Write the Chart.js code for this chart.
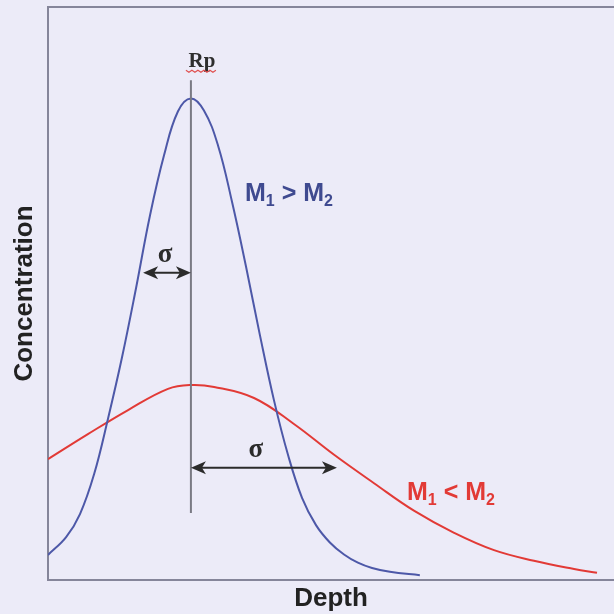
<!DOCTYPE html>
<html>
<head>
<meta charset="utf-8">
<script src="https://cdn.jsdelivr.net/npm/chart.js@4"></script>
<style>
  body { margin: 0; background: #ecebf8; }
  canvas { display: block; }
</style>
</head>
<body>
<canvas id="chart" width="614" height="614"></canvas>
<script>
// depth / concentration
const narrowDepth = [0, 0.64, 1.13, 1.63, 2.12, 2.61, 3.11, 3.60, 4.10, 4.59, 5.05, 5.51, 6.01, 6.50, 7.00, 7.49, 7.99, 8.48, 8.98, 9.47, 9.96, 10.46, 10.95, 11.45, 12.08, 13.14];
const narrowConc = [0.052, 0.089, 0.137, 0.220, 0.335, 0.461, 0.606, 0.756, 0.882, 0.973, 1.0, 0.975, 0.902, 0.786, 0.650, 0.508, 0.372, 0.260, 0.170, 0.114, 0.078, 0.053, 0.036, 0.025, 0.017, 0.010];
const wideDepth = [0, 1.41, 2.83, 4.24, 5.05, 5.87, 7.28, 8.69, 10.11, 11.52, 12.93, 14.35, 15.76, 17.17, 18.59, 19.4];
const wideConc = [0.251, 0.303, 0.353, 0.397, 0.405, 0.401, 0.378, 0.324, 0.260, 0.201, 0.144, 0.098, 0.062, 0.040, 0.023, 0.015];

const rpDepth = 5.05;
const rpLine = [0.139, 1.038];
const narrowSigma = { from: 3.36, to: 5.05, conc: 0.638 };
const wideSigma = { from: 5.05, to: 10.21, conc: 0.233 };

const blue = "#4d58a8";
const red = "#e23a36";
const ink = "#2b2b2b";
const frame = "#85859a";

const toPoints = (xs, ys) => xs.map((x, i) => ({ x: x, y: ys[i] }));

const arrowHead = (ctx, x, y, dir) => {
  ctx.beginPath();
  ctx.moveTo(x, y);
  ctx.lineTo(x - dir * 15, y - 6.5);
  ctx.lineTo(x - dir * 11, y);
  ctx.lineTo(x - dir * 15, y + 6.5);
  ctx.closePath();
  ctx.fill();
};

const subText = (ctx, x, y, parts, color) => {
  ctx.fillStyle = color;
  ctx.textBaseline = "alphabetic";
  ctx.textAlign = "left";
  parts.forEach((p) => {
    ctx.font = p.sub ? "bold 16px 'Liberation Sans', Arial" : "bold 25px 'Liberation Sans', Arial";
    ctx.fillText(p.t, x, y + (p.sub ? 5 : 0));
    x += ctx.measureText(p.t).width;
  });
};

const decorations = {
  id: "decorations",
  beforeDraw: (chart) => {
    const ctx = chart.ctx;
    ctx.save();
    ctx.fillStyle = "#ecebf8";
    ctx.fillRect(0, 0, chart.width, chart.height);
    ctx.restore();
  },
  afterDatasetsDraw: (chart) => {
    const ctx = chart.ctx;
    const xs = chart.scales.x;
    const ys = chart.scales.y;
    const area = chart.chartArea;
    ctx.save();

    // top frame line
    ctx.strokeStyle = frame;
    ctx.lineWidth = 2;
    ctx.beginPath();
    ctx.moveTo(area.left - 1, area.top);
    ctx.lineTo(area.right, area.top);
    ctx.stroke();

    // Rp line
    const rx = xs.getPixelForValue(rpDepth);
    ctx.strokeStyle = "#7a7a84";
    ctx.lineWidth = 2;
    ctx.beginPath();
    ctx.moveTo(rx, ys.getPixelForValue(rpLine[1]));
    ctx.lineTo(rx, ys.getPixelForValue(rpLine[0]));
    ctx.stroke();

    // Rp label with wavy underline
    ctx.fillStyle = "#2e2e2e";
    ctx.font = "bold 21px 'Liberation Serif', 'Times New Roman'";
    ctx.textAlign = "center";
    ctx.textBaseline = "alphabetic";
    const ry = ys.getPixelForValue(rpLine[1]) - 13;
    ctx.fillText("Rp", rx + 11, ry);
    ctx.strokeStyle = "#e05050";
    ctx.lineWidth = 1.2;
    ctx.beginPath();
    for (let i = 0; i <= 10; i++) {
      const px = rx - 5 + i * 3;
      const py = ry + 3 + (i % 2 ? 2 : 0);
      if (i === 0) ctx.moveTo(px, py); else ctx.lineTo(px, py);
    }
    ctx.stroke();

    // sigma arrows
    ctx.strokeStyle = ink;
    ctx.fillStyle = ink;
    ctx.lineWidth = 2;
    [narrowSigma, wideSigma].forEach((s) => {
      const x1 = xs.getPixelForValue(s.from);
      const x2 = xs.getPixelForValue(s.to);
      const y = ys.getPixelForValue(s.conc);
      ctx.beginPath();
      ctx.moveTo(x1 + 4, y);
      ctx.lineTo(x2 - 4, y);
      ctx.stroke();
      arrowHead(ctx, x1, y, -1);
      arrowHead(ctx, x2, y, 1);
      ctx.font = "bold 27px 'Liberation Serif', 'Times New Roman'";
      ctx.textAlign = "center";
      ctx.textBaseline = "alphabetic";
      const mid = s === narrowSigma ? (x1 + x2) / 2 - 2 : x1 + 65;
      ctx.fillText("σ", mid, y - 11);
    });

    // mass labels
    subText(ctx, 245, 201, [{ t: "M" }, { t: "1", sub: true }, { t: " > " }, { t: "M" }, { t: "2", sub: true }], "#3f4a90");
    subText(ctx, 407, 500, [{ t: "M" }, { t: "1", sub: true }, { t: " < " }, { t: "M" }, { t: "2", sub: true }], red);

    ctx.restore();
  },
};

const config = {
  type: "line",
  data: {
    datasets: [
      {
        label: "M1 > M2",
        data: toPoints(narrowDepth, narrowConc),
        borderColor: blue,
        borderWidth: 2,
        pointRadius: 0,
        tension: 0.4,
      },
      {
        label: "M1 < M2",
        data: toPoints(wideDepth, wideConc),
        borderColor: red,
        borderWidth: 2,
        pointRadius: 0,
        tension: 0.4,
      },
    ],
  },
  options: {
    responsive: false,
    animation: false,
    layout: { padding: { top: 7, right: 0, left: 0, bottom: 0 } },
    plugins: {
      legend: { display: false },
      tooltip: { enabled: false },
    },
    scales: {
      x: {
        type: "linear",
        min: 0,
        max: 20,
        ticks: { display: false },
        grid: { display: false },
        border: { display: true, color: frame, width: 2 },
        title: {
          display: true,
          text: "Depth",
          color: "#222",
          font: { family: "'Liberation Sans', Arial", size: 26, weight: "bold" },
          padding: { top: 0, bottom: 0 },
        },
        afterFit: (scale) => {
          scale.height = 34;
        },
      },
      y: {
        min: 0,
        max: 1.19,
        ticks: { display: false },
        grid: { display: false },
        border: { display: true, color: frame, width: 2 },
        title: {
          display: true,
          text: "Concentration",
          color: "#222",
          font: { family: "'Liberation Sans', Arial", size: 26, weight: "bold" },
          padding: { top: 9, bottom: 0 },
        },
        afterFit: (scale) => {
          scale.width = 48;
        },
      },
    },
  },
  plugins: [decorations],
};

const ctx = document.getElementById("chart").getContext("2d");
const myChart = new Chart(ctx, config);
</script>
</body>
</html>
